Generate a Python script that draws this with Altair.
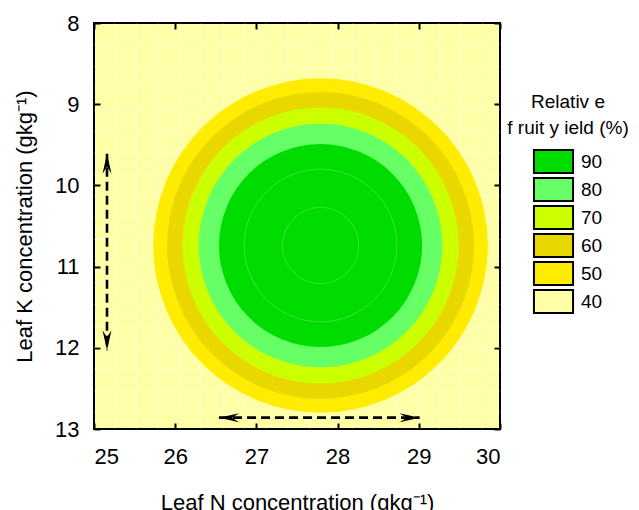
import altair as alt
import pandas as pd

# ---- values ----
LEVELS = ["90", "80", "70", "60", "50", "40"]
LEVEL_COLORS = ["#00DC00", "#66FF66", "#CCFF00", "#E9D800", "#FFEC00", "#FFFFA8"]

# filled contour bands: outer boundary radius (in leaf N / K units) of each band
BAND_LEVEL = ["50", "60", "70", "80", "90"]
BAND_RADIUS = [2.06, 1.89, 1.70, 1.50, 1.25]
CENTER_N = 27.79
CENTER_K = 10.74
INNER_RADIUS = [0.94, 0.47]   # faint inner contour lines

X_TICKS = [25, 26, 27, 28, 29, 30]
Y_TICKS = [8, 9, 10, 11, 12, 13]

# dashed double arrows (horizontal, vertical)
ARROW_N1 = [26.54, 25.16]
ARROW_K1 = [12.86, 9.61]
ARROW_N2 = [29.01, 25.16]
ARROW_K2 = [12.86, 12.03]
ARROW_ANGLE1 = [180, 270]
ARROW_ANGLE2 = [0, 90]

# faint mesh lines of the contour surface (decoration)
GRID_STEP = 0.2665
GRID_N = [round(25.255 + i * GRID_STEP, 3) for i in range(19)]
GRID_K = [round(8.267 + i * GRID_STEP, 3) for i in range(19)]

FONT = "Liberation Sans"
W = 406
H = 406

xs = alt.Scale(domain=[25, 30], nice=False, zero=False)
ys = alt.Scale(domain=[8, 13], reverse=True, nice=False, zero=False)

bands = pd.DataFrame({"level": BAND_LEVEL, "r": BAND_RADIUS,
                      "n": [CENTER_N] * len(BAND_LEVEL), "k": [CENTER_K] * len(BAND_LEVEL)})
inner = pd.DataFrame({"r": INNER_RADIUS, "n": [CENTER_N] * 2, "k": [CENTER_K] * 2})
arrows = pd.DataFrame({"n1": ARROW_N1, "k1": ARROW_K1, "n2": ARROW_N2, "k2": ARROW_K2})
heads = pd.DataFrame({
    "n": ARROW_N1 + ARROW_N2,
    "k": ARROW_K1 + ARROW_K2,
    "angle": ARROW_ANGLE1 + ARROW_ANGLE2,
})
ticks = pd.DataFrame({"n": X_TICKS, "k": Y_TICKS})
grid_v = pd.DataFrame({"n": GRID_N})
grid_h = pd.DataFrame({"k": GRID_K})

common_axis = dict(domain=False, grid=False, tickColor="black", tickWidth=2, tickSize=6,
                   offset=-6, labelColor="black", labelFontSize=22, labelFont=FONT,
                   titleFont=FONT, titleFontSize=22, titleFontWeight="normal", titleColor="black")

bottom_axis = alt.Axis(orient="bottom", values=X_TICKS, title="Leaf N concentration (gkg⁻¹)",
                       labelPadding=17, titlePadding=25, **common_axis)
left_axis = alt.Axis(orient="left", values=Y_TICKS, title="Leaf K concentration (gkg⁻¹)",
                     labelPadding=15, titlePadding=18, **common_axis)
top_axis = alt.Axis(orient="top", values=X_TICKS, title=None, labels=False, **common_axis)
right_axis = alt.Axis(orient="right", values=Y_TICKS, title=None, labels=False, **common_axis)

radius_scale = alt.Scale(type="linear", domain=[0, 5], range=[0, W], zero=True)

grid_v_layer = alt.Chart(grid_v).mark_rule(color="white", opacity=0.3, strokeWidth=1).encode(
    x=alt.X("n:Q", scale=xs, axis=bottom_axis)
)
grid_h_layer = alt.Chart(grid_h).mark_rule(color="white", opacity=0.3, strokeWidth=1).encode(
    y=alt.Y("k:Q", scale=ys, axis=left_axis)
)

band_layer = alt.Chart(bands).mark_arc(theta=0, theta2=6.2832).encode(
    x=alt.X("n:Q", scale=xs, axis=None),
    y=alt.Y("k:Q", scale=ys, axis=None),
    radius=alt.Radius("r:Q", scale=radius_scale, stack=None),
    color=alt.Color(
        "level:N",
        scale=alt.Scale(domain=LEVELS, range=LEVEL_COLORS),
        legend=alt.Legend(
            title=["Relativ e", "f ruit y ield (%)"],
            orient="none", legendX=413, legendY=70, padding=0,
            titleFont=FONT, titleFontSize=19, titleFontWeight="normal", titleColor="black",
            titleAnchor="middle", titleAlign="center", titleLineHeight=26, titlePadding=11,
            labelFont=FONT, labelFontSize=19, labelColor="black", labelOffset=15,
            symbolType="M-1.7,-1H1.7V1H-1.7Z", symbolSize=529,
            symbolStrokeColor="black", symbolStrokeWidth=2, symbolOpacity=1,
            symbolOffset=8, rowPadding=-5.3,
        ),
    ),
    order=alt.Order("r:Q", sort="descending"),
)

inner_layer = alt.Chart(inner).mark_arc(theta=0, theta2=6.2832, fillOpacity=0, stroke="white",
                                        strokeOpacity=0.22, strokeWidth=1).encode(
    x=alt.X("n:Q", scale=xs, axis=None),
    y=alt.Y("k:Q", scale=ys, axis=None),
    radius=alt.Radius("r:Q", scale=radius_scale, stack=None),
)

arrow_layer = alt.Chart(arrows).mark_rule(color="black", strokeWidth=2.6, strokeDash=[9, 5]).encode(
    x=alt.X("n1:Q", scale=xs, axis=None),
    x2="n2:Q",
    y=alt.Y("k1:Q", scale=ys, axis=None),
    y2="k2:Q",
)

head_layer = alt.Chart(heads).mark_point(
    shape="M0,0L-2,-0.45L-1.3,0L-2,0.45Z", size=400, filled=True, color="black", opacity=1
).encode(
    x=alt.X("n:Q", scale=xs, axis=None),
    y=alt.Y("k:Q", scale=ys, axis=None),
    angle=alt.Angle("angle:Q", scale=None),
)

tick_layer = alt.Chart(ticks).mark_point(opacity=0).encode(
    x=alt.X("n:Q", scale=xs, axis=top_axis),
    y=alt.Y("k:Q", scale=ys, axis=right_axis),
)

chart = alt.layer(
    grid_v_layer, grid_h_layer, band_layer, inner_layer, arrow_layer, head_layer, tick_layer
).resolve_axis(x="independent", y="independent").properties(
    width=W, height=H,
    padding={"left": 5, "top": 4, "right": 0, "bottom": 2},
).configure(font=FONT).configure_view(
    fill="#FFFFA8", stroke="black", strokeWidth=2
)

chart.save("out.html", embed_options={"renderer": "svg", "actions": False})
